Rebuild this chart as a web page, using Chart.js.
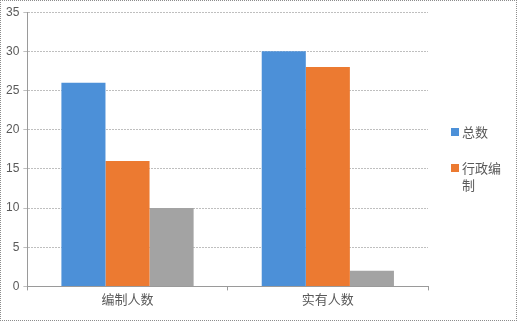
<!DOCTYPE html>
<html>
<head>
<meta charset="utf-8">
<script src="https://cdn.jsdelivr.net/npm/chart.js@4.4.0/dist/chart.umd.min.js"></script>
<style>
    html, body { margin: 0; padding: 0; background: #fff; }
    #wrap {
        position: relative; width: 517px; height: 321px;
        box-sizing: border-box; border: 1px dotted #8c8c8c;
    }
    #c { position: absolute; left: 0; top: 0; }
    #legend {
        position: absolute; left: 450px; top: 122px; width: 60px;
        font-family: "Noto Sans CJK SC", sans-serif; font-size: 13px; color: #595959;
        line-height: 17px;
    }
    .item { display: flex; align-items: flex-start; margin-bottom: 19px; }
    .box { width: 8px; height: 8px; margin: 5px 3px 0 0; flex: none; }
</style>
</head>
<body>
<div id="wrap">
    <canvas id="c" width="515" height="319"></canvas>
    <div id="legend"></div>
</div>
<script>
    const categories = ["编制人数", "实有人数"];
    const seriesNames = ["总数", "行政编制", ""];
    const totalValues = [26, 30];
    const adminValues = [16, 28];
    const otherValues = [10, 2];
    const colors = ["#4C90D8", "#EC7A31", "#A3A3A3"];

    const ctx = document.getElementById("c").getContext("2d");
    const values = [totalValues, adminValues, otherValues];

    new Chart(ctx, {
        type: "bar",
        data: {
            labels: categories,
            datasets: values.map((v, i) => ({
                label: seriesNames[i],
                data: v,
                backgroundColor: colors[i],
                borderWidth: 0,
                categoryPercentage: 0.66,
                barPercentage: 1.0
            }))
        },
        options: {
            responsive: false,
            animation: false,
            layout: { padding: { left: 1, right: 88, top: 10, bottom: 12 } },
            plugins: {
                legend: { display: false },
                tooltip: { enabled: false }
            },
            scales: {
                x: {
                    grid: { display: true, drawOnChartArea: false, color: "#9a9a9a", tickLength: 4 },
                    border: { color: "#9a9a9a", dash: [1, 1] },
                    ticks: {
                        color: "#595959",
                        font: { family: "Noto Sans CJK SC", size: 13 },
                        padding: 1
                    }
                },
                y: {
                    min: 0, max: 35,
                    ticks: {
                        stepSize: 5, color: "#595959",
                        font: { family: "Liberation Sans", size: 12 },
                        padding: 4
                    },
                    grid: { color: "#bfbfbf", tickLength: 4 },
                    border: { color: "#9a9a9a", dash: [2, 1] }
                }
            }
        }
    });

    // legend shows only the first two series, as in the picture
    const legend = document.getElementById("legend");
    legend.innerHTML = seriesNames.slice(0, 2).map((name, i) =>
        `<div class="item"><span class="box" style="background:${colors[i]}"></span><span>${name}</span></div>`
    ).join("");
</script>
</body>
</html>
